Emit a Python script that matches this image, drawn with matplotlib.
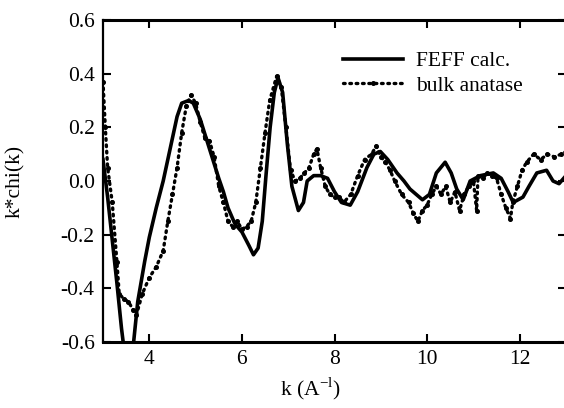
import matplotlib
matplotlib.use("Agg")
import matplotlib.pyplot as plt
import numpy as np

plt.rcParams['font.family'] = ['Liberation Serif', 'DejaVu Serif']
plt.rcParams['mathtext.fontset'] = 'custom'
plt.rcParams['mathtext.rm'] = 'Liberation Serif'
plt.rcParams['axes.unicode_minus'] = False

# FEFF calculation
k_calc = [3.0, 3.1, 3.2, 3.3, 3.4, 3.45, 3.55, 3.65, 3.75, 3.9, 4.0, 4.15, 4.3,
          4.45, 4.6, 4.7, 4.85, 4.95, 5.1, 5.3, 5.5, 5.6, 5.7, 5.85, 6.0, 6.15,
          6.25, 6.35, 6.44, 6.52, 6.61, 6.7, 6.78, 6.88, 6.98, 7.08, 7.22, 7.33,
          7.41, 7.55, 7.7, 7.85, 8.0, 8.15, 8.34, 8.5, 8.7, 8.85, 8.99, 9.15,
          9.35, 9.5, 9.63, 9.9, 10.05, 10.2, 10.39, 10.52, 10.64, 10.78, 10.93,
          11.15, 11.43, 11.6, 11.75, 11.86, 12.07, 12.2, 12.37, 12.58, 12.72,
          12.85, 13.0]
chi_calc = [0.08, -0.06, -0.22, -0.38, -0.55, -0.62, -0.70, -0.62, -0.45, -0.30,
            -0.21, -0.10, 0.0, 0.12, 0.24, 0.29, 0.30, 0.29, 0.23, 0.12, 0.01,
            -0.04, -0.10, -0.16, -0.19, -0.24, -0.275, -0.25, -0.15, 0.02, 0.20,
            0.33, 0.385, 0.33, 0.14, -0.02, -0.11, -0.08, 0.0, 0.02, 0.02, 0.01,
            -0.04, -0.08, -0.09, -0.04, 0.05, 0.10, 0.11, 0.08, 0.03, 0.0, -0.03,
            -0.07, -0.05, 0.03, 0.07, 0.03, -0.03, -0.07, 0.0, 0.02, 0.03, 0.01,
            -0.04, -0.08, -0.06, -0.02, 0.03, 0.04, 0.0, -0.01, 0.02]

# bulk anatase measurement
k_exp = [3.0, 3.05, 3.1, 3.2, 3.3, 3.35, 3.45, 3.55, 3.65, 3.72, 3.85, 4.0,
         4.15, 4.3, 4.4, 4.5, 4.6, 4.7, 4.8, 4.9, 5.0, 5.1, 5.2, 5.3, 5.4, 5.5,
         5.6, 5.7, 5.8, 5.9, 6.0, 6.1, 6.2, 6.3, 6.4, 6.5, 6.6, 6.75, 6.85,
         6.95, 7.05, 7.15, 7.25, 7.35, 7.45, 7.55, 7.62, 7.7, 7.8, 7.9, 8.0,
         8.1, 8.2, 8.35, 8.5, 8.65, 8.8, 8.9, 9.0, 9.1, 9.2, 9.3, 9.45, 9.6,
         9.7, 9.8, 9.9, 10.0, 10.1, 10.2, 10.3, 10.4, 10.5, 10.6, 10.7, 10.8,
         10.9, 11.0, 11.07, 11.1, 11.2, 11.3, 11.4, 11.5, 11.6, 11.7, 11.8,
         11.85, 11.95, 12.05, 12.15, 12.3, 12.45, 12.6, 12.75, 12.9, 13.0]
chi_exp = [0.37, 0.2, 0.05, -0.08, -0.3, -0.42, -0.44, -0.45, -0.48, -0.5, -0.42,
           -0.36, -0.32, -0.26, -0.15, -0.05, 0.05, 0.18, 0.28, 0.32, 0.29, 0.22,
           0.16, 0.15, 0.09, -0.02, -0.08, -0.15, -0.17, -0.15, -0.18, -0.17,
           -0.15, -0.08, 0.05, 0.18, 0.30, 0.39, 0.35, 0.20, 0.04, 0.0, 0.01,
           0.03, 0.05, 0.10, 0.12, 0.05, -0.02, -0.05, -0.06, -0.06, -0.08,
           -0.05, 0.02, 0.08, 0.10, 0.13, 0.09, 0.07, 0.04, 0.0, -0.05, -0.08,
           -0.12, -0.15, -0.11, -0.09, -0.05, -0.02, -0.05, -0.02, -0.08, -0.04,
           -0.11, -0.05, -0.02, 0.0, -0.11, 0.02, 0.01, 0.03, 0.02, 0.01, -0.05,
           -0.10, -0.14, -0.08, -0.02, 0.04, 0.07, 0.10, 0.08, 0.10, 0.09, 0.10,
           0.11]

xticks = [4, 6, 8, 10, 12]
yticks = [-0.6, -0.4, -0.2, 0.0, 0.2, 0.4, 0.6]

fig = plt.figure(figsize=(5.64, 4.08), dpi=100)
ax = fig.add_axes([103 / 564, 1 - 342 / 408, 463 / 564, 322 / 408])

ax.plot(k_calc, chi_calc, color='black', lw=2.6, solid_joinstyle='round',
        label='FEFF calc.')
ax.plot(k_exp, chi_exp, color='black', lw=2.4, ls=(0, (0.5, 1.4)),
        dash_capstyle='round', marker='o', ms=2.6, label='bulk anatase')

ax.set_xlim(3, 13)
ax.set_ylim(-0.6, 0.6)
ax.set_xticks(xticks)
ax.set_yticks(yticks)
ax.set_yticklabels(['%.1f' % v for v in yticks])
ax.tick_params(direction='in', length=6, width=1.5, top=True, right=True,
               labelsize=15.5, pad=6)
for side in ['left', 'right']:
    ax.spines[side].set_linewidth(1.6)
for side in ['top', 'bottom']:
    ax.spines[side].set_linewidth(2.2)

ax.set_xlabel(r'k (A$^{\mathrm{-l}}$)', fontsize=15.5)
ax.xaxis.set_label_coords(0.447, -0.105)
ax.set_ylabel('k*chi(k)', fontsize=15.5)
ax.yaxis.set_label_coords(-0.168, 0.5)

ax.legend(loc='upper left', bbox_to_anchor=(0.50, 0.93), frameon=False,
          fontsize=15.5, handlelength=2.8, handletextpad=0.6, labelspacing=0.2,
          borderaxespad=0)

fig.savefig('out.png', dpi=100)
